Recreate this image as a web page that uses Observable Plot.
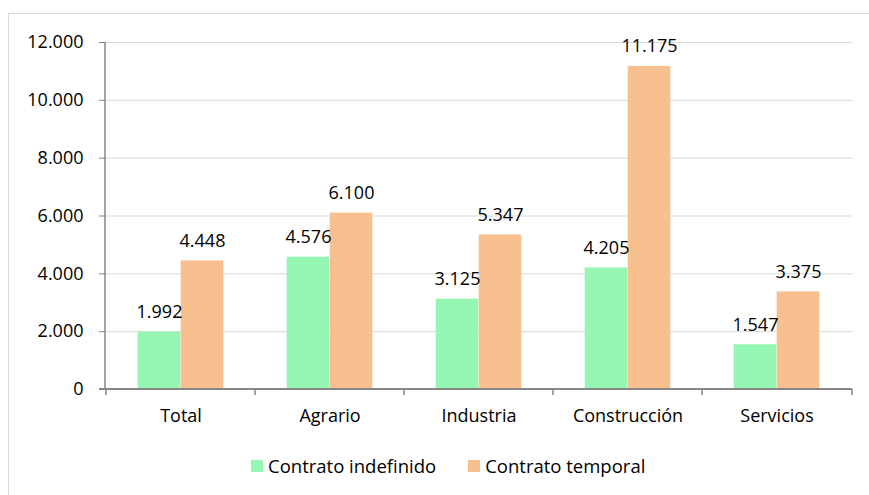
<!DOCTYPE html>
<html><head><meta charset="utf-8">
<script src="https://cdn.jsdelivr.net/npm/d3@7"></script>
<script src="https://cdn.jsdelivr.net/npm/@observablehq/plot@0.6"></script>
<style>
html,body{margin:0;padding:0;background:#fff;width:869px;height:495px;overflow:hidden;font-family:"Open Sans",sans-serif;}
#frame{position:absolute;left:8px;top:13px;width:900px;height:520px;border:1px solid #d9d9d9;box-sizing:border-box;}
#chart{position:absolute;left:0;top:0;}
#legend{position:absolute;left:251px;top:453px;display:flex;align-items:center;font-size:18.5px;color:#000;white-space:nowrap;}
.item{display:flex;align-items:center;}
.sw{width:12px;height:12px;margin-right:5px;}
</style>
</head><body>
<div id="frame"></div>
<div id="chart"></div>
<div id="legend"></div>
<script>
const categories = ["Total", "Agrario", "Industria", "Construcción", "Servicios"];
const seriesNames = ["Contrato indefinido", "Contrato temporal"];
const indefinido = [1992, 4576, 3125, 4205, 1547];
const temporal = [4448, 6100, 5347, 11175, 3375];
const yTicks = [0, 2000, 4000, 6000, 8000, 10000, 12000];
const seriesColors = ["#95f6b4", "#f9c08f"];

const loc = d3.formatLocale({decimal: ",", thousands: ".", grouping: [3]});
const fmt = loc.format(",d");

const data = [];
categories.forEach((c, i) => {
  data.push({cat: c, series: seriesNames[0], value: indefinido[i]});
  data.push({cat: c, series: seriesNames[1], value: temporal[i]});
});

const W = 869, H = 440, mL = 105, mR = 17, mT = 42, mB = 51;
const bw = (W - mL - mR) / categories.length;
const barW = 43;

function axisLines(index, scales, values, dims) {
  const x = scales.x, y = scales.y;
  const g = d3.create("svg:g").attr("stroke", "#868686").attr("fill", "none");
  const y0 = y(0), yTop = y(12000);
  const left = dims.marginLeft, right = dims.width - dims.marginRight;
  g.append("line").attr("x1", left).attr("x2", left).attr("y1", yTop).attr("y2", y0).attr("stroke-width", 1.5);
  g.append("line").attr("x1", left - 6).attr("x2", right).attr("y1", y0).attr("y2", y0).attr("stroke-width", 2);
  const bounds = categories.map(c => x(c)).concat([right]);
  bounds.forEach(b => {
    g.append("line").attr("x1", b).attr("x2", b).attr("y1", y0).attr("y2", y0 + 6).attr("stroke-width", 1.5);
  });
  return g.node();
}

const chart = Plot.plot({
  width: W, height: H,
  marginLeft: mL, marginRight: mR, marginTop: mT, marginBottom: mB,
  style: {fontFamily: "'Open Sans', sans-serif", fontSize: "18px", color: "#000", background: "transparent"},
  x: {domain: categories, padding: 0, label: null},
  y: {domain: [0, 12000], label: null},
  color: {domain: seriesNames, range: seriesColors},
  marks: [
    Plot.gridY(yTicks, {stroke: "#d9d9d9", strokeOpacity: 1, strokeWidth: 1}),
    Plot.barY(data.filter(d => d.series === seriesNames[0]), {x: "cat", y: "value", fill: "series",
      insetLeft: bw / 2 - barW, insetRight: bw / 2}),
    Plot.barY(data.filter(d => d.series === seriesNames[1]), {x: "cat", y: "value", fill: "series",
      insetLeft: bw / 2, insetRight: bw / 2 - barW}),
    Plot.text(data.filter(d => d.series === seriesNames[0]), {x: "cat", y: "value", text: d => fmt(d.value),
      dx: -barW / 2, dy: -20, fontSize: 18, fill: "#000"}),
    Plot.text(data.filter(d => d.series === seriesNames[1]), {x: "cat", y: "value", text: d => fmt(d.value),
      dx: barW / 2, dy: -20, fontSize: 18, fill: "#000"}),
    Plot.axisY({ticks: yTicks, tickFormat: fmt, tickSize: 6, tickPadding: 16, stroke: "#868686", fontSize: 18, label: null}),
    Plot.axisX({tickSize: 0, tickPadding: 20, fontSize: 18, label: null}),
    axisLines
  ]
});
document.getElementById("chart").appendChild(chart);

const legend = document.getElementById("legend");
seriesNames.forEach((s, i) => {
  const it = document.createElement("div");
  it.className = "item";
  if (i > 0) it.style.marginLeft = "32px";
  const sw = document.createElement("div");
  sw.className = "sw";
  sw.style.background = seriesColors[i];
  const t = document.createElement("span");
  t.textContent = s;
  it.appendChild(sw); it.appendChild(t);
  legend.appendChild(it);
});
</script>
</body></html>
